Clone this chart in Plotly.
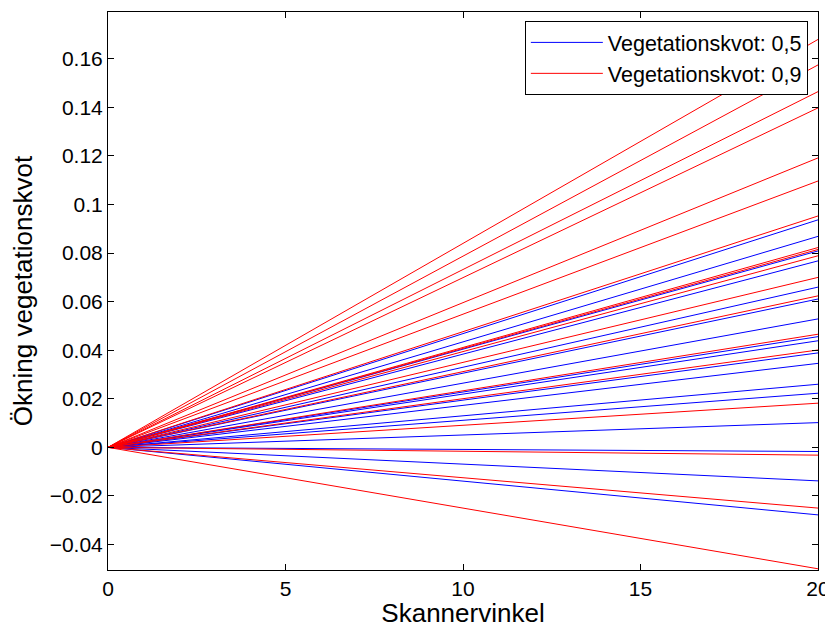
import plotly.graph_objects as go

# Scanner angle range (x) - lines start at origin, end at x = 20
x_start = 0
x_end = 20

# End values (at x = 20)
blue_end = [0.0937, 0.0869, 0.0809, 0.0768, 0.0660, 0.0611, 0.0529, 0.0456,
            0.0439, 0.0389, 0.0346, 0.0260, 0.0223, 0.0102, -0.0017, -0.0138,
            -0.0278]
red_end = [0.1680, 0.1575, 0.1465, 0.1398, 0.1192, 0.1097, 0.0953, 0.0823,
           0.0815, 0.0789, 0.0700, 0.0624, 0.0466, 0.0401, 0.0182, -0.0032,
           -0.0250, -0.0500]

blue_name = "Vegetationskvot: 0,5"
red_name = "Vegetationskvot: 0,9"

x_ticks = [0, 5, 10, 15, 20]
y_ticks = [-0.04, -0.02, 0, 0.02, 0.04, 0.06, 0.08, 0.1, 0.12, 0.14, 0.16]
y_tick_text = ["\u22120.04", "\u22120.02", "0", "0.02", "0.04", "0.06", "0.08",
               "0.1", "0.12", "0.14", "0.16"]

fig = go.Figure()
for i, v in enumerate(blue_end):
    fig.add_trace(go.Scatter(x=[x_start, x_end], y=[0, v], mode="lines",
                             line=dict(color="#0000ff", width=1),
                             name=blue_name, legendgroup="b",
                             showlegend=(i == 0)))
for i, v in enumerate(red_end):
    fig.add_trace(go.Scatter(x=[x_start, x_end], y=[0, v], mode="lines",
                             line=dict(color="#ff0000", width=1),
                             name=red_name, legendgroup="r",
                             showlegend=(i == 0)))

font_family = "Liberation Sans, Arial, Helvetica, sans-serif"
# The page body adds an 8px margin, so the figure is sized/offset to compensate
fig.update_layout(
    width=825, height=620,
    margin=dict(l=100, r=15, t=4, b=58, autoexpand=False),
    paper_bgcolor="white", plot_bgcolor="white",
    font=dict(family=font_family, size=21.5, color="black"),
    showlegend=True,
    legend=dict(x=0.9857, y=0.984, xanchor="right", yanchor="top",
                bordercolor="black", borderwidth=1, bgcolor="white",
                itemwidth=72, font=dict(size=21.5), tracegroupgap=0),
    xaxis=dict(range=[0, 20], tickvals=x_ticks, ticks="inside", ticklen=6,
               tickcolor="black", showline=True, linecolor="black",
               linewidth=1, mirror="ticks", showgrid=False, zeroline=False,
               automargin=False,
               title=dict(text="Skannervinkel", standoff=0),
               tickfont=dict(size=21)),
    yaxis=dict(range=[-0.0505, 0.1793], tickvals=y_ticks, ticktext=y_tick_text,
               ticks="inside", ticklen=6, tickcolor="black", showline=True,
               linecolor="black", linewidth=1, mirror="ticks",
               showgrid=False, zeroline=False, automargin=False,
               title=dict(text="Ökning vegetationskvot", standoff=14),
               tickfont=dict(size=21)),
)

fig.write_html("out.html")
